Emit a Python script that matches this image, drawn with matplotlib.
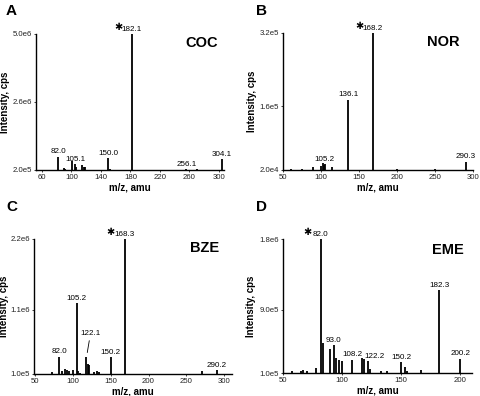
import matplotlib
matplotlib.use('Agg')
import matplotlib.pyplot as plt

plt.rcParams['font.family'] = ['Liberation Sans', 'DejaVu Sans']

# ---------------- data ----------------
panel_letters = ['A', 'B', 'C', 'D']
compounds = ['COC', 'NOR', 'BZE', 'EME']

# Panel A (COC)
mz_A = [82.0, 90, 92, 101, 105.1, 106.5, 115, 117, 119, 150.0, 152, 182.1, 256.1, 270, 304.1]
int_A = [0.67e6, 0.26e6, 0.25e6, 0.52e6, 0.40e6, 0.30e6, 0.38e6, 0.32e6, 0.30e6, 0.62e6, 0.25e6, 5.0e6, 0.23e6, 0.22e6, 0.58e6]
lab_mz_A = [82.0, 105.1, 150.0, 182.1, 256.1, 304.1]
lab_txt_A = ['82.0', '105.1', '150.0', '182.1', '256.1', '304.1']
xt_A = [60, 100, 140, 180, 220, 260, 300]
yt_A = [2.0e5, 2.6e6, 5.0e6]
ytl_A = ['2.0e5', '2.6e6', '5.0e6']

# Panel B (NOR)
mz_B = [60, 75, 90, 100, 102, 104.0, 105.2, 115, 136.1, 168.2, 200, 250, 290.3]
int_B = [2.3e4, 2.3e4, 2.6e4, 2.8e4, 3.5e4, 3.2e4, 3.3e4, 2.6e4, 1.74e5, 3.2e5, 2.3e4, 2.2e4, 3.8e4]
lab_mz_B = [105.2, 136.1, 168.2, 290.3]
lab_txt_B = ['105.2', '136.1', '168.2', '290.3']
xt_B = [50, 100, 150, 200, 250, 300]
yt_B = [2.0e4, 1.6e5, 3.2e5]
ytl_B = ['2.0e4', '1.6e5', '3.2e5']

# Panel C (BZE)
mz_C = [73, 82.0, 86, 90, 92, 95, 100, 105.2, 107, 110, 118, 120, 122.1, 128, 132, 135, 150.2, 168.3, 270, 290.2]
int_C = [0.13e6, 0.37e6, 0.15e6, 0.18e6, 0.17e6, 0.15e6, 0.16e6, 1.2e6, 0.14e6, 0.12e6, 0.37e6, 0.26e6, 0.24e6, 0.13e6, 0.14e6, 0.13e6, 0.36e6, 2.2e6, 0.14e6, 0.16e6]
lab_mz_C = [82.0, 105.2, 122.1, 150.2, 168.3, 290.2]
lab_txt_C = ['82.0', '105.2', '122.1', '150.2', '168.3', '290.2']
xt_C = [50, 100, 150, 200, 250, 300]
yt_C = [1.0e5, 1.1e6, 2.2e6]
ytl_C = ['1.0e5', '1.1e6', '2.2e6']

# Panel D (EME)
mz_D = [58, 65, 67, 70, 78, 82.0, 84, 90, 93.0, 95, 97, 100, 108.2, 117, 118.5, 122.2, 124, 133, 138, 150.2, 153, 155, 167, 182.3, 200.2]
int_D = [0.12e6, 0.13e6, 0.14e6, 0.13e6, 0.16e6, 1.8e6, 0.48e6, 0.41e6, 0.45e6, 0.29e6, 0.27e6, 0.25e6, 0.27e6, 0.29e6, 0.28e6, 0.25e6, 0.15e6, 0.12e6, 0.12e6, 0.24e6, 0.17e6, 0.13e6, 0.14e6, 1.15e6, 0.28e6]
lab_mz_D = [82.0, 93.0, 108.2, 122.2, 150.2, 182.3, 200.2]
lab_txt_D = ['82.0', '93.0', '108.2', '122.2', '150.2', '182.3', '200.2']
xt_D = [50, 100, 150, 200]
yt_D = [1.0e5, 9.0e5, 1.8e6]
ytl_D = ['1.0e5', '9.0e5', '1.8e6']

base_peaks = [182.1, 168.2, 168.3, 82.0]

# ---------------- layout ----------------
W, H = 480, 396
fig = plt.figure(figsize=(4.8, 3.96), dpi=100)

def rect(l, r, t, b):
    return [l / W, 1 - b / H, (r - l) / W, (b - t) / H]

positions = [rect(36, 224, 34, 170), rect(283, 473, 33, 170),
             rect(34, 232, 239, 374), rect(283, 472, 239, 373)]
xlims = [(52, 307), (50, 300), (49, 310), (50, 210)]
panels = [
    (mz_A, int_A, lab_mz_A, lab_txt_A, xt_A, yt_A, ytl_A),
    (mz_B, int_B, lab_mz_B, lab_txt_B, xt_B, yt_B, ytl_B),
    (mz_C, int_C, lab_mz_C, lab_txt_C, xt_C, yt_C, ytl_C),
    (mz_D, int_D, lab_mz_D, lab_txt_D, xt_D, yt_D, ytl_D),
]
ylabel_x = [10, 257, 9, 256]
letter_pos = [(6, 4), (256, 4), (6, 200), (256, 200)]
comp_pos = [(218, 36), (459, 35), (219, 241), (464, 243)]
label_dx = {('D', '122.2'): 4.5, ('D', '108.2'): 0.5}

for i, (mz, inten, lmz, ltxt, xt, yt, ytl) in enumerate(panels):
    ax = fig.add_axes(positions[i])
    ybot = yt[0]
    ax.vlines(mz, ybot, inten, color='black', linewidth=1.3)
    ax.set_xlim(*xlims[i])
    ax.set_ylim(ybot, yt[-1])
    ax.set_xticks(xt)
    ax.set_xticklabels([str(v) for v in xt])
    ax.set_yticks(yt)
    ax.set_yticklabels(ytl)
    ax.tick_params(labelsize=5.6, length=1.5, width=0.6, pad=1.5, colors='#222222')
    for s in ['top', 'right']:
        ax.spines[s].set_visible(False)
    for s in ['left', 'bottom']:
        ax.spines[s].set_linewidth(1.0)
    ax.set_xlabel('m/z, amu', fontsize=7, fontweight='bold', labelpad=1)
    ax.set_ylabel('Intensity, cps', fontsize=7, fontweight='bold')
    ax.yaxis.set_label_coords((ylabel_x[i] - positions[i][0] * W) / (positions[i][2] * W), 0.5)
    lookup = dict(zip(mz, inten))
    for m, t in zip(lmz, ltxt):
        y = lookup[m]
        if i == 2 and t == '122.1':
            ax.annotate(t, xy=(118.3, 0.37e6), xytext=(2.8, 14), textcoords='offset points',
                        ha='center', va='bottom', fontsize=5.8,
                        arrowprops=dict(arrowstyle='-', lw=0.6, color='black', shrinkA=0.5, shrinkB=3))
            continue
        dx = label_dx.get((panel_letters[i], t), 0)
        ax.annotate(t, xy=(m, y), xytext=(dx, 1), textcoords='offset points',
                    ha='center', va='bottom', fontsize=5.8)
        if m == base_peaks[i]:
            ax.annotate('\u2731', xy=(m, y), xytext=(-10, 1.2), textcoords='offset points',
                        ha='center', va='bottom', fontsize=7, fontweight='bold',
                        family=['DejaVu Sans'])
    ax.text(comp_pos[i][0] / W, 1 - comp_pos[i][1] / H, compounds[i], transform=fig.transFigure,
            ha='right', va='top', fontsize=10.5, fontweight='bold')
    fig.text(letter_pos[i][0] / W, 1 - letter_pos[i][1] / H, panel_letters[i],
             ha='left', va='top', fontsize=11, fontweight='bold')

fig.savefig('out.png', dpi=100)
